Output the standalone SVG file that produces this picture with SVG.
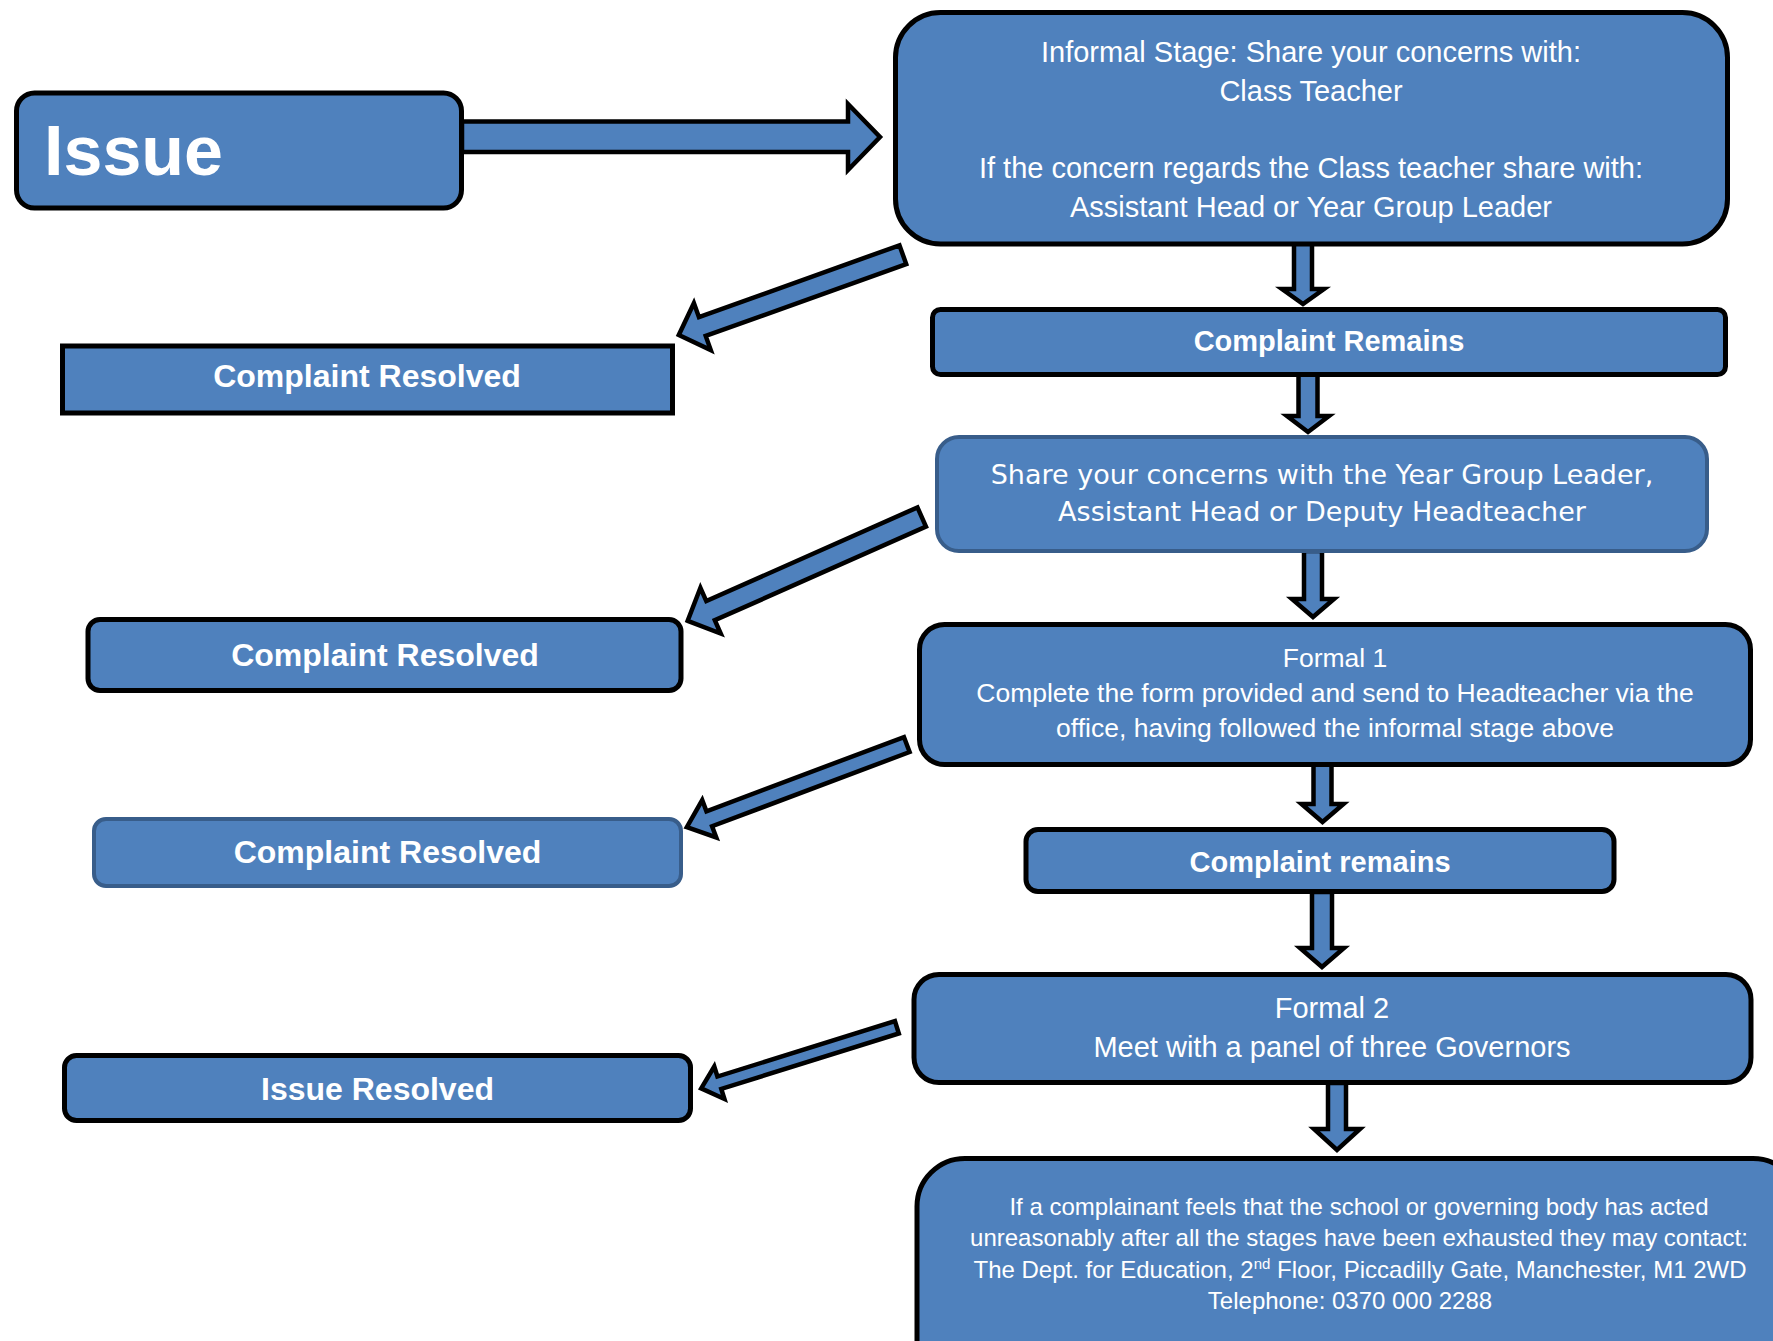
<svg xmlns="http://www.w3.org/2000/svg" width="1773" height="1341" viewBox="0 0 1773 1341">
<style>
.box{fill:#4f81bd;stroke:#000;stroke-width:5}
.boxb{fill:#4f81bd;stroke:#385d8a;stroke-width:4}
.arr{fill:#4f81bd;stroke:#000;stroke-width:4.5;stroke-linejoin:miter;stroke-miterlimit:10}
.t{fill:#fff;font-family:"Liberation Sans",Arial,sans-serif;text-anchor:middle}
.b{font-weight:bold}
.v{fill:#fff;font-family:"DejaVu Sans",Verdana,sans-serif;text-anchor:middle}
</style>
<rect width="1773" height="1341" fill="#fff"/>
<g id="connectors">
<path class="arr" d="M462,121.5 L848,121.5 L848,104 L880,137 L848,170 L848,152 L462,152 Z"/>
<path class="arr" transform="translate(678.8,335) rotate(160.28)" d="M0,0 L-25,-25 L-25,-10 L-238,-10 L-238,10 L-25,10 L-25,25 Z"/>
<path class="arr" transform="translate(687.7,620.8) rotate(156.08)" d="M0,0 L-25,-25 L-25,-10.5 L-256,-10.5 L-256,10.5 L-25,10.5 L-25,25 Z"/>
<path class="arr" transform="translate(686.8,827.2) rotate(159.4)" d="M0,0 L-24,-20 L-24,-8 L-235,-8 L-235,8 L-24,8 L-24,20 Z"/>
<path class="arr" transform="translate(701.2,1088.4) rotate(162.66)" d="M0,0 L-19,-17 L-19,-6.5 L-205,-6.5 L-205,6.5 L-19,6.5 L-19,17 Z"/>
<path class="arr" d="M1294,241 L1312,241 L1312,289 L1324,289 L1303,304 L1282,289 L1294,289 Z"/>
<path class="arr" d="M1298.5,374 L1317.5,374 L1317.5,416 L1329,416 L1308,432 L1287,416 L1298.5,416 Z"/>
<path class="arr" d="M1304,551 L1322,551 L1322,599 L1334,599 L1313,617 L1292,599 L1304,599 Z"/>
<path class="arr" d="M1313.5,762 L1331.5,762 L1331.5,804 L1343.5,804 L1322.5,822 L1301.5,804 L1313.5,804 Z"/>
<path class="arr" d="M1312,892 L1332,892 L1332,948 L1344,948 L1322,967 L1300,948 L1312,948 Z"/>
<path class="arr" d="M1328,1083 L1346,1083 L1346,1129 L1360,1129 L1337,1150 L1314,1129 L1328,1129 Z"/>
</g>
<g id="issue">
<rect class="box" x="16.5" y="93" width="445" height="115" rx="18"/>
<text class="t b" x="44" y="175" font-size="70" style="text-anchor:start">Issue</text>
</g>
<g id="informal">
<rect class="box" x="895.5" y="12.5" width="832" height="231.5" rx="45"/>
<text class="t" font-size="29"><tspan x="1311" y="62">Informal Stage: Share your concerns with:</tspan><tspan x="1311" y="100.5">Class Teacher</tspan><tspan x="1311" y="178">If the concern regards the Class teacher share with:</tspan><tspan x="1311" y="217">Assistant Head or Year Group Leader</tspan></text>
</g>
<g id="resolved1">
<rect class="box" x="62.5" y="346" width="610" height="67"/>
<text class="t b" x="367" y="387" font-size="32">Complaint Resolved</text>
</g>
<g id="remains1">
<rect class="box" x="932.5" y="309.5" width="793" height="65" rx="8"/>
<text class="t b" x="1329" y="351" font-size="29">Complaint Remains</text>
</g>
<g id="share">
<rect class="boxb" x="937" y="437" width="770" height="114" rx="22"/>
<text class="v" font-size="27"><tspan x="1322" y="484">Share your concerns with the Year Group Leader,</tspan><tspan x="1322" y="521">Assistant Head or Deputy Headteacher</tspan></text>
</g>
<g id="resolved2">
<rect class="box" x="88" y="619.5" width="593" height="71" rx="12"/>
<text class="t b" x="385" y="665.5" font-size="32">Complaint Resolved</text>
</g>
<g id="formal1">
<rect class="box" x="919.5" y="624.5" width="831" height="140" rx="25"/>
<text class="t" font-size="26.5"><tspan x="1335" y="667">Formal 1</tspan><tspan x="1335" y="702">Complete the form provided and send to Headteacher via the</tspan><tspan x="1335" y="737">office, having followed the informal stage above</tspan></text>
</g>
<g id="resolved3">
<rect class="boxb" x="94" y="819" width="587" height="67" rx="12"/>
<text class="t b" x="387.5" y="863" font-size="32">Complaint Resolved</text>
</g>
<g id="remains2">
<rect class="box" x="1026" y="829.5" width="588" height="62" rx="12"/>
<text class="t b" x="1320" y="871.5" font-size="29">Complaint remains</text>
</g>
<g id="formal2">
<rect class="box" x="914" y="974.5" width="837" height="108" rx="25"/>
<text class="t" font-size="29"><tspan x="1332" y="1018">Formal 2</tspan><tspan x="1332" y="1057">Meet with a panel of three Governors</tspan></text>
</g>
<g id="issueResolved">
<rect class="box" x="64.5" y="1055.5" width="626" height="65" rx="12"/>
<text class="t b" x="377.5" y="1099.5" font-size="32">Issue Resolved</text>
</g>
<g id="final">
<rect class="box" x="917" y="1158.5" width="884" height="240" rx="48"/>
<text class="t" font-size="24"><tspan x="1359" y="1214.5">If a complainant feels that the school or governing body has acted</tspan><tspan x="1359" y="1246">unreasonably after all the stages have been exhausted they may contact:</tspan><tspan x="1360" y="1277.5">The Dept. for Education, 2<tspan dy="-9" font-size="15">nd</tspan><tspan dy="9"> Floor, Piccadilly Gate, Manchester, M1 2WD</tspan></tspan><tspan x="1350" y="1309">Telephone: 0370 000 2288</tspan></text>
</g>
</svg>
